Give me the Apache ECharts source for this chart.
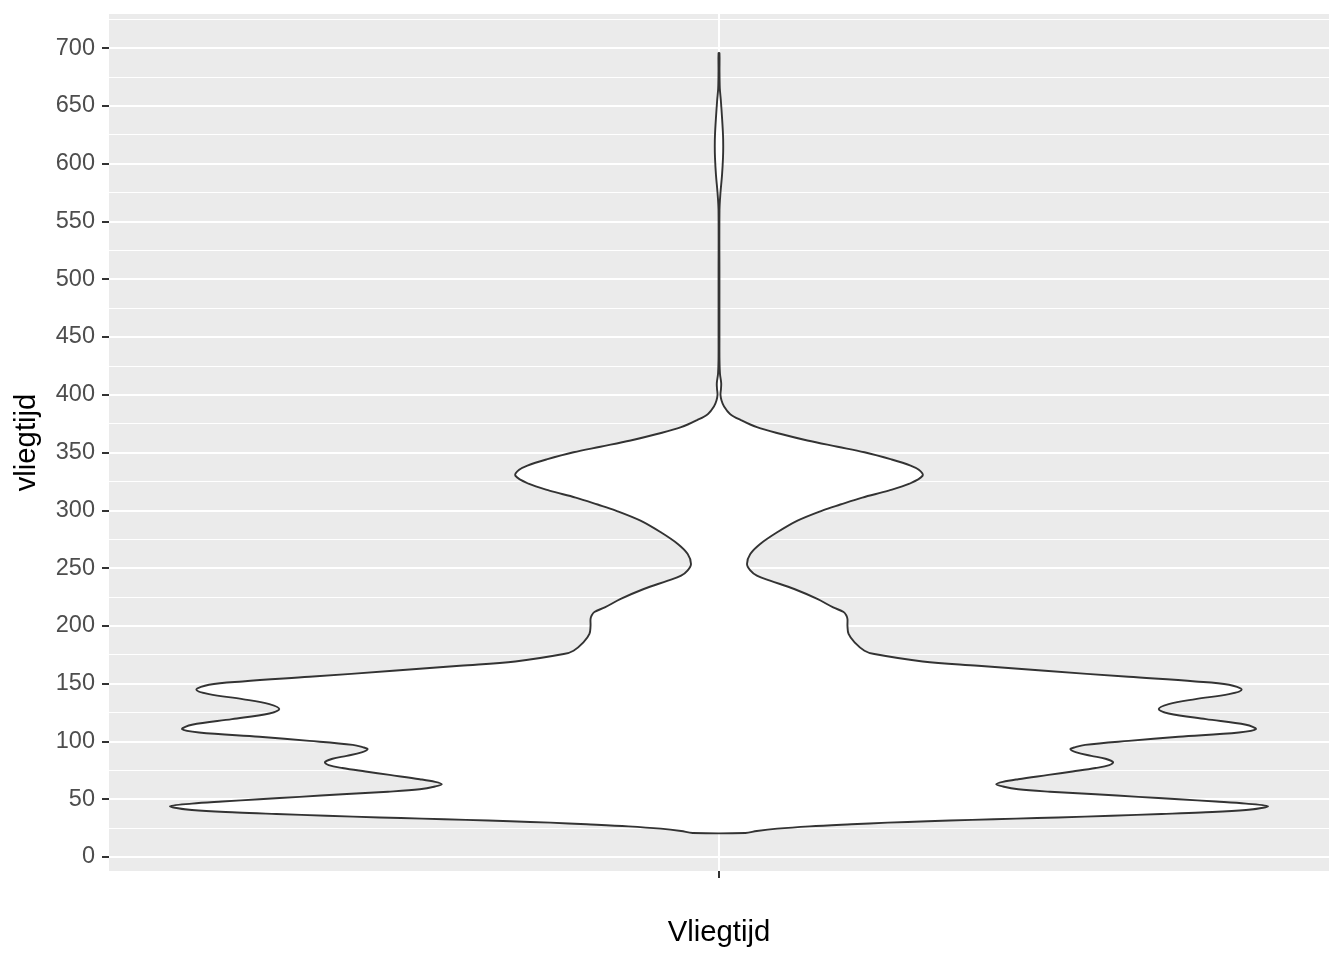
<!DOCTYPE html>
<html>
<head>
<meta charset="utf-8">
<script src="https://cdn.jsdelivr.net/npm/echarts@6/dist/echarts.min.js"></script>
<style>html,body{margin:0;padding:0;background:#fff}#c{width:1344px;height:960px}</style>
</head>
<body>
<div id="c"></div>
<script>
// ---- data ----
var groupName = 'Vliegtijd';
var yTitle = 'vliegtijd';
var yMajorTicks = [0, 50, 100, 150, 200, 250, 300, 350, 400, 450, 500, 550, 600, 650, 700];
var yMinorTicks = [25, 75, 125, 175, 225, 275, 325, 375, 425, 475, 525, 575, 625, 675, 725];
// violin outline: flight time values and scaled density (1 = widest)
var violinY = [20.8, 22.5, 24.5, 26.5, 28.3, 29.7, 30.9, 32.1, 33.2, 34.2, 35.7, 37.2, 38.5, 40.7, 44, 46.2, 48, 50, 52, 54.3, 56.5,
  58.6, 61, 63, 65, 67.3, 71, 74, 77, 79.5, 82, 85, 87.5, 90.5, 93.3, 95, 97, 100.5, 104, 107.7, 110.6, 114.4,
  119.3, 124.2, 128, 132.3, 136.6, 140.9, 144.7, 149, 151.9, 155.9, 161.1, 165.5, 169.2, 175.6, 178.5, 185.7, 193, 200, 205.9, 209,
  212, 216, 223.3, 231.9, 239.1, 243.4, 248, 253.6, 262.2, 270.9, 281, 291.1, 299.8, 305, 311, 317, 323, 330, 335, 338.7, 344,
  350.2, 355, 360.4, 366, 371.9, 378, 383.4, 390, 395, 400, 405, 410, 418, 430, 450, 500, 560, 575, 590, 605,
  615, 625, 640, 655, 665, 680, 695.6];
var violinW = [0.048, 0.069, 0.106, 0.165, 0.241, 0.307, 0.380, 0.461, 0.541, 0.618, 0.715, 0.806, 0.878, 0.960, 1.000, 0.960, 0.905, 0.837, 0.764, 0.686, 0.603,
  0.545, 0.517, 0.505, 0.517, 0.545, 0.600, 0.644, 0.686, 0.711, 0.718, 0.704, 0.678, 0.651, 0.640, 0.649, 0.667, 0.746, 0.837, 0.947, 0.978, 0.960,
  0.887, 0.819, 0.801, 0.819, 0.868, 0.929, 0.952, 0.929, 0.868, 0.746, 0.594, 0.472, 0.371, 0.283, 0.265, 0.247, 0.236, 0.234, 0.234, 0.232,
  0.227, 0.208, 0.179, 0.137, 0.093, 0.069, 0.057, 0.051, 0.057, 0.075, 0.106, 0.143, 0.188, 0.221, 0.261, 0.309, 0.347, 0.371, 0.364, 0.349, 0.314,
  0.265, 0.216, 0.161, 0.113, 0.069, 0.040, 0.020, 0.009, 0.0046, 0.0027, 0.0036, 0.004, 0.0018, 0.0009, 0.0008, 0.0008, 0.0009, 0.0027, 0.0055, 0.0073,
  0.0077, 0.0073, 0.0055, 0.0033, 0.0015, 0.0009, 0.0008];

var FONT = '"Liberation Sans", Arial, sans-serif';
var chart = echarts.init(document.getElementById('c'), null, {renderer: 'canvas'});
var yMin = -12.13, yMax = 729.45;

chart.setOption({
  backgroundColor: '#ffffff',
  animation: false,
  grid: {left: 109, right: 15, top: 14, bottom: 89, show: true, backgroundColor: '#EBEBEB', borderWidth: 0},
  xAxis: {
    type: 'value', min: -0.5, max: 0.5,
    name: groupName, nameLocation: 'middle', nameGap: 47,
    nameTextStyle: {fontFamily: FONT, fontSize: 29.3, color: '#000000'},
    axisLine: {show: false, onZero: false},
    axisTick: {show: true, customValues: [0], length: 7, lineStyle: {color: '#333333', width: 2}},
    axisLabel: {show: true, customValues: [0], formatter: function () { return ''; }},
    splitLine: {show: true, lineStyle: {color: '#ffffff', width: 2}}
  },
  yAxis: [{
    type: 'value', min: yMin, max: yMax,
    name: yTitle, nameLocation: 'middle', nameGap: 68, nameRotate: 90,
    nameTextStyle: {fontFamily: FONT, fontSize: 29.3, color: '#000000'},
    axisLine: {show: false, onZero: false},
    axisTick: {show: true, customValues: yMajorTicks, length: 7, lineStyle: {color: '#333333', width: 2}},
    axisLabel: {show: true, customValues: yMajorTicks, margin: 14, fontFamily: FONT, fontSize: 23.5, color: '#4D4D4D'},
    splitLine: {show: true, lineStyle: {color: '#ffffff', width: 2}}
  }, {
    type: 'value', min: yMin, max: yMax, position: 'left',
    axisLine: {show: false, onZero: false},
    axisTick: {show: false, customValues: yMinorTicks},
    axisLabel: {show: false, customValues: yMinorTicks},
    splitLine: {show: true, lineStyle: {color: '#ffffff', width: 1}}
  }],
  series: [{
    type: 'custom',
    yAxisIndex: 0,
    data: [[0, 0]],
    renderItem: function (params, api) {
      var pts = [];
      var i;
      for (i = 0; i < violinY.length; i++) pts.push(api.coord([-violinW[i] * 0.45, violinY[i]]));
      for (i = violinY.length - 1; i >= 0; i--) pts.push(api.coord([violinW[i] * 0.45, violinY[i]]));
      return {
        type: 'polygon',
        shape: {points: pts, smooth: 0.35},
        style: {fill: '#ffffff', stroke: '#333333', lineWidth: 1.9, lineJoin: 'round'}
      };
    }
  }]
});
</script>
</body>
</html>
